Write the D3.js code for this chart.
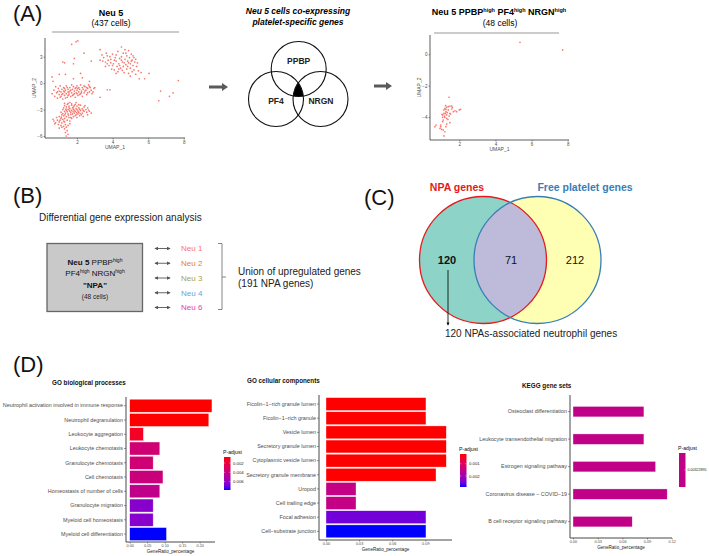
<!DOCTYPE html>
<html><head><meta charset="utf-8">
<script src="https://cdn.jsdelivr.net/npm/d3@7"></script>
<style>body{margin:0;background:#fff} svg{display:block;font-family:"Liberation Sans",Arial,sans-serif}</style>
</head><body><svg id="c" width="709" height="556"></svg>
<script>
// ---------------- DATA ----------------
const neu5Cells = [
[3.3,3.8],[3.4,3.2],[2.8,2.5],[3.5,2.9],[3.6,2.4],[3.7,3.1],[3.8,2.0],[3.9,2.7],[3.95,1.6],[4.0,3.3],[4.05,2.2],[4.1,1.5],[4.15,2.9],[4.2,2.5],[4.25,1.9],[4.3,3.6],[4.3,1.3],[4.35,2.2],[4.4,2.8],[4.45,1.7],[4.5,4.1],[4.5,3.0],[4.55,2.4],[4.6,1.9],[4.6,3.4],[4.65,1.2],[4.7,2.7],[4.7,3.8],[4.75,2.1],[4.8,1.6],[4.8,3.1],[4.85,2.5],[4.9,3.7],[4.9,1.1],[4.95,2.9],[5.0,2.2],[5.0,1.7],[5.05,3.3],[5.1,2.6],[5.1,1.3],[5.15,2.0],[5.2,2.9],[5.2,1.5],[5.25,2.4],[5.3,1.0],[5.35,1.9],[5.4,2.3],[5.45,1.4],[5.5,0.5],[5.6,1.2],[6.05,1.1],[5.8,0.5],[3.45,2.5],[3.6,1.9],[3.75,2.6],[3.85,3.0],[4.0,2.0],[4.1,2.6],[4.2,3.2],[4.4,2.0],[4.5,2.6],[4.65,2.3],[4.75,3.4],[4.9,2.3],[5.05,2.5],[5.15,3.1],[5.3,2.7],[4.35,1.6],[4.55,1.45],[3.65,3.4],[3.9,2.3],[4.85,1.9],[5.0,0.8],[4.2,1.1],[3.3,2.6],[3.7,2.2],
[7.7,0.3],[6.7,-0.9],[7.4,-1.1],[7.2,-1.5],[6.6,-2.0],[3.3,-1.6],[3.7,-0.75],[3.85,-0.75],[3.0,-0.5],[2.9,-1.0],
[1.7,4.4],[1.95,4.7],[2.05,4.8],[2.4,3.4],[1.2,2.4],[1.3,2.3],[1.85,2.8],[1.8,2.2],[1.0,1.0],[1.35,1.0],[1.8,0.5],[2.3,0.6],[2.7,0.2],[0.6,0.7],[0.65,0.2],[2.2,1.1],
[0.6,-1.2],[0.7,-0.8],[0.75,-1.5],[0.8,-0.4],[0.85,-1.1],[0.9,-1.7],[0.95,-0.6],[1.0,-1.3],[1.0,-0.9],[1.05,-0.3],[1.1,-1.5],[1.1,-1.0],[1.15,-0.7],[1.2,-1.2],[1.2,-1.8],[1.25,-0.5],[1.3,-1.0],[1.3,-1.4],[1.35,-0.8],[1.4,-0.3],[1.4,-1.2],[1.45,-1.6],[1.5,-0.7],[1.5,-1.0],[1.55,-1.3],[1.6,-0.5],[1.6,-0.9],[1.65,-1.5],[1.7,-0.2],[1.7,-1.1],[1.75,-0.7],[1.8,-1.3],[1.8,-0.4],[1.85,-0.9],[1.9,-1.6],[1.9,-0.6],[1.95,-1.1],[2.0,-0.3],[2.0,-0.8],[2.05,-1.4],[2.1,-0.5],[2.1,-1.0],[2.15,-0.7],[2.2,-1.2],[2.2,-0.2],[2.25,-0.9],[2.3,-0.5],[2.3,-1.5],[2.35,-0.7],[2.4,-1.1],[2.45,-0.4],[2.5,-0.8],[2.55,-1.3],[2.6,-0.6],[2.65,-0.2],[2.7,-1.0],[2.75,-0.5],[2.8,-0.8],[2.85,-1.2],[2.95,-0.6],[1.05,-1.6],[1.25,-0.9],[1.45,-0.5],[1.55,-1.1],[1.75,-1.4],[1.95,-0.5],[2.15,-1.3],[2.4,-0.3],[2.6,-1.1],[0.9,-1.0],[1.15,-1.3],[1.35,-1.7],[1.65,-0.8],[1.85,-1.2],[2.05,-0.6],[2.25,-1.1],[2.45,-0.9],[2.7,-0.4],[1.3,-0.6],[1.5,-1.4],[2.0,-1.2],[2.55,-0.5],
[1.3,-2.3],[1.45,-2.4],[1.6,-2.2],[1.7,-2.5],[1.55,-2.6],[1.4,-2.7],[1.25,-2.8],[1.8,-2.7],[1.9,-2.4],[2.0,-2.6],[2.1,-2.8],[2.2,-2.5],[2.3,-2.9],[2.4,-2.7],[2.5,-3.0],[2.6,-2.8],[2.7,-3.2],[2.8,-3.4],[2.55,-3.3],[2.4,-3.2],[2.3,-3.4],[2.2,-3.1],[2.1,-3.3],[2.0,-3.0],[1.9,-3.2],[1.8,-2.95],[1.7,-3.1],[1.6,-2.9],[1.5,-3.0],[1.4,-3.1],[1.3,-3.2],[1.2,-3.0],[1.35,-3.4],[1.5,-3.5],[1.65,-3.3],[1.75,-3.5],[1.85,-3.4],[1.95,-3.6],[2.05,-3.5],[2.15,-3.7],[2.25,-3.6],[1.1,-3.3],[1.15,-3.6],[1.25,-3.7],[1.4,-3.8],[1.55,-3.9],[1.0,-3.8],[1.1,-4.0],[1.2,-4.1],[1.3,-4.0],[1.45,-4.2],[0.9,-4.2],[1.0,-4.4],[1.15,-4.5],[1.3,-4.4],[0.8,-4.5],[0.95,-4.7],[1.1,-4.8],[1.25,-4.9],[1.35,-4.7],[0.7,-4.3],[0.65,-4.1],[0.75,-4.6],[1.4,-5.0],[1.3,-5.2],[1.45,-5.4],[1.35,-5.6],[1.4,-6.0],[1.5,-5.8],[1.6,-4.6],[1.7,-4.0],[1.8,-3.8],[2.0,-3.9],[1.6,-4.3],[1.55,-2.8],[1.75,-2.8],[1.95,-2.9],[2.15,-2.95],[2.35,-3.1],[1.45,-3.25],[1.65,-3.55],[1.85,-3.1],[2.05,-3.15],[1.3,-2.55],[1.5,-2.3],[1.85,-2.55],[2.1,-2.45],[2.45,-2.55],[2.65,-3.05],[1.2,-3.45],[1.05,-4.2],[1.25,-4.3],[0.85,-3.9],[1.15,-5.0],[1.0,-5.1],[1.5,-4.8],[1.65,-3.9],[1.9,-3.7],[2.35,-3.8],[2.6,-3.6],[1.38,-2.95],[1.58,-3.15],[1.78,-3.25],[1.98,-3.35],[2.18,-3.45],[1.12,-3.85],[1.32,-3.6],[1.52,-3.65],[1.7,-2.35],[1.95,-2.2]
];
const npaCells = [
[5.36,0.77],[7.72,0.28],[1.43,-2.74],[1.30,-3.38],[1.20,-3.45],[1.48,-3.30],[1.39,-3.55],[1.26,-3.66],[1.15,-3.77],[1.08,-3.87],[1.30,-3.87],[1.48,-3.77],[1.67,-3.66],[1.76,-3.60],[2.00,-3.55],[2.07,-3.51],[1.58,-3.49],[1.20,-4.02],[1.11,-4.19],[1.08,-4.02],[1.30,-4.09],[1.48,-4.36],[0.97,-4.51],[0.71,-4.51],[0.65,-4.62],[0.93,-4.72],[1.02,-4.79],[1.11,-4.83],[1.20,-4.94],[1.15,-5.21],[1.26,-4.62],[1.08,-4.30],[1.39,-3.34],[1.15,-3.55],[1.33,-3.72],[1.44,-3.94],[1.22,-3.77],[1.18,-3.94],[1.58,-3.30],[1.85,-3.66],[1.04,-3.83],[1.26,-3.51],[1.37,-4.15],[1.30,-4.45],[0.97,-4.62],[1.52,-3.81],[1.62,-3.40],[1.24,-3.28]
];
const umapXTicks = [2,4,6,8];
const umap1YTicks = [3,0,-3,-6];
const umap2YTicks = [0,-2,-4];
const vennGenes = ["PPBP","PF4","NRGN"];
const comparisonGroups = ["Neu 1","Neu 2","Neu 3","Neu 4","Neu 6"];
const vennCounts = [120, 71, 212];
const goBPTerms = ["Neutrophil activation involved in immune response","Neutrophil degranulation","Leukocyte aggregation","Leukocyte chemotaxis","Granulocyte chemotaxis","Cell chemotaxis","Homeostasis of number of cells","Granulocyte migration","Myeloid cell homeostasis","Myeloid cell differentiation"];
const goBPRatio = [0.235,0.226,0.039,0.086,0.067,0.095,0.086,0.067,0.067,0.105];
const goBPPadj = [0.0007,0.0007,0.0013,0.0036,0.0036,0.0038,0.0043,0.0063,0.0063,0.0078];
const goBPLegendTicks = [0.002,0.004,0.006];
const goCCTerms = ["Ficolin\u22121\u2212rich granule lumen","Ficolin\u22121\u2212rich granule","Vesicle lumen","Secretory granule lumen","Cytoplasmic vesicle lumen","Secretory granule membrane","Uropod","Cell trailing edge","Focal adhesion","Cell\u2212substrate junction"];
const goCCRatio = [0.0906,0.0906,0.109,0.109,0.109,0.0997,0.0272,0.0272,0.0906,0.0906];
const goCCPadj = [0.0002,0.0002,0.0002,0.0002,0.0002,0.0002,0.0015,0.0015,0.0025,0.0029];
const goCCLegendTicks = [0.001,0.002];
const keggTerms = ["Osteoclast differentiation","Leukocyte transendothelial migration","Estrogen signaling pathway","Coronavirus disease \u2212 COVID\u221219","B cell receptor signaling pathway"];
const keggRatio = [0.0862,0.0862,0.1004,0.1145,0.072];
const keggPadj = [0.00322895,0.00322895,0.00322895,0.00322895,0.00322895];
const goXTicksBP = [0,0.05,0.10,0.15,0.20];
const goXTicksCC = [0,0.03,0.06,0.09];
const keggXTicks = [0,0.03,0.06,0.09,0.12];

// ---------------- DRAW ----------------
const svg = d3.select("#c");
svg.append("rect").attr("width",709).attr("height",556).attr("fill","#fff");
const defs = svg.append("defs");
const ptCol = "#F8766D";
const axCol = "#333";
const lblCol = "#4d4d4d";

function panelLabel(t,x,y){ svg.append("text").attr("x",x).attr("y",y).attr("font-size",22).attr("fill","#111").text(t); }
panelLabel("(A)",13,21);
panelLabel("(B)",13,203);
panelLabel("(C)",364,205);
panelLabel("(D)",13,372);

function umap(opts){
  const g = svg.append("g");
  const x = d3.scaleLinear().domain([2,8]).range(opts.xr);
  const y = d3.scaleLinear().domain(opts.yd).range(opts.yr);
  g.append("path").attr("d",`M${opts.x0},${opts.yTop}V${opts.y0}H${opts.xEnd}`).attr("fill","none").attr("stroke",axCol).attr("stroke-width",0.8);
  const ax = g.append("g").attr("transform",`translate(0,${opts.y0})`).call(d3.axisBottom(x).tickValues(umapXTicks).tickSize(1.5).tickFormat(d3.format("d")));
  const ay = g.append("g").attr("transform",`translate(${opts.x0},0)`).call(d3.axisLeft(y).tickValues(opts.yt).tickSize(1.5).tickFormat(d3.format("d")));
  [ax,ay].forEach(a=>{a.select(".domain").remove();a.selectAll("line").attr("stroke",axCol).attr("stroke-width",0.5);a.selectAll("text").attr("font-size",4.5).attr("fill",lblCol).attr("font-family","Liberation Sans");});
  ax.selectAll("text").attr("dy","0.9em").attr("y",1.5);
  ay.selectAll("text").attr("x",-2.5);
  g.append("text").attr("x",(opts.x0+opts.xEnd)/2).attr("y",opts.y0+11).attr("text-anchor","middle").attr("font-size",5).attr("fill",lblCol).text("UMAP_1");
  g.append("text").attr("transform",`translate(${opts.x0-9},${(opts.yTop+opts.y0)/2}) rotate(-90)`).attr("text-anchor","middle").attr("font-size",5).attr("fill",lblCol).text("UMAP_2");
  g.selectAll("circle").data(opts.data).join("circle").attr("cx",d=>x(d[0])).attr("cy",d=>y(d[1])).attr("r",0.85).attr("fill",ptCol);
}
umap({data:neu5Cells,xr:[77,183.7],yd:[-6,3],yr:[136,56.7],yt:umap1YTicks,x0:45,y0:138,yTop:38,xEnd:185});
umap({data:npaCells,xr:[459.3,567.7],yd:[-4,0],yr:[117,54.3],yt:umap2YTicks,x0:430,y0:140,yTop:35,xEnd:569});

svg.append("text").attr("x",111).attr("y",16).attr("text-anchor","middle").attr("font-size",9).attr("font-weight","bold").text("Neu 5");
svg.append("text").attr("x",111).attr("y",26).attr("text-anchor","middle").attr("font-size",8.5).text("(437 cells)");
svg.append("line").attr("x1",52).attr("x2",179).attr("y1",32).attr("y2",32).attr("stroke","#999").attr("stroke-width",1.2);
svg.append("text").attr("x",298).attr("y",14).attr("text-anchor","middle").attr("font-size",8.5).attr("font-weight","bold").attr("font-style","italic").text("Neu 5 cells co-expressing");
svg.append("text").attr("x",298).attr("y",25).attr("text-anchor","middle").attr("font-size",8.5).attr("font-weight","bold").attr("font-style","italic").text("platelet-specific genes");
{
  const t = svg.append("text").attr("x",499).attr("y",15).attr("text-anchor","middle").attr("font-size",9).attr("font-weight","bold");
  t.append("tspan").text("Neu 5 PPBP");
  t.append("tspan").attr("font-size",5.5).attr("dy",-3.5).text("high");
  t.append("tspan").attr("dy",3.5).text(" PF4");
  t.append("tspan").attr("font-size",5.5).attr("dy",-3.5).text("high");
  t.append("tspan").attr("dy",3.5).text(" NRGN");
  t.append("tspan").attr("font-size",5.5).attr("dy",-3.5).text("high");
}
svg.append("text").attr("x",500).attr("y",26).attr("text-anchor","middle").attr("font-size",8.5).text("(48 cells)");
svg.append("line").attr("x1",434).attr("x2",559).attr("y1",33).attr("y2",33).attr("stroke","#999").attr("stroke-width",1.2);

function blockArrow(x1,x2,y){
  svg.append("path").attr("d",`M${x1},${y-1.6}H${x2-6}V${y-4}L${x2},${y}L${x2-6},${y+4}V${y+1.6}H${x1}Z`).attr("fill","#5a5a5a");
}
blockArrow(209,228,87);
blockArrow(374,392,86);

const vC = [[298.7,69],[276,99],[320.5,99]], vR = 27.5;
vC.forEach((c,i)=>{ defs.append("clipPath").attr("id","vc"+i).append("circle").attr("cx",c[0]).attr("cy",c[1]).attr("r",vR); });
svg.append("g").attr("clip-path","url(#vc1)").append("g").attr("clip-path","url(#vc2)")
  .append("circle").attr("cx",vC[0][0]).attr("cy",vC[0][1]).attr("r",vR).attr("fill","#000");
svg.selectAll(".vc").data(vC).join("circle").attr("cx",d=>d[0]).attr("cy",d=>d[1]).attr("r",vR).attr("fill","none").attr("stroke","#111").attr("stroke-width",1.1);
const vLab = [[298.7,64],[276,104],[321,104]];
vennGenes.forEach((g,i)=>svg.append("text").attr("x",vLab[i][0]).attr("y",vLab[i][1]).attr("text-anchor","middle").attr("font-size",8.5).attr("font-weight","bold").attr("fill","#222").text(g));

// ---------- B ----------
svg.append("text").attr("x",39).attr("y",220.5).attr("font-size",10).attr("fill","#222").text("Differential gene expression analysis");
svg.append("rect").attr("x",47).attr("y",243.5).attr("width",95.5).attr("height",68).attr("fill","#c9c9c9").attr("stroke","#666").attr("stroke-width",1.3);
{
  const cx=95;
  const t1 = svg.append("text").attr("x",cx).attr("y",264.5).attr("text-anchor","middle").attr("font-size",8).attr("fill","#111");
  t1.append("tspan").attr("font-weight","bold").text("Neu 5 ");
  t1.append("tspan").text("PPBP");
  t1.append("tspan").attr("font-size",5).attr("dy",-3).text("high");
  const t2 = svg.append("text").attr("x",cx).attr("y",276).attr("text-anchor","middle").attr("font-size",8).attr("fill","#111");
  t2.append("tspan").text("PF4");
  t2.append("tspan").attr("font-size",5).attr("dy",-3).text("high");
  t2.append("tspan").attr("dy",3).text(" NRGN");
  t2.append("tspan").attr("font-size",5).attr("dy",-3).text("high");
  svg.append("text").attr("x",cx).attr("y",287.5).attr("text-anchor","middle").attr("font-size",8).attr("font-weight","bold").attr("fill","#111").text("\"NPA\"");
  svg.append("text").attr("x",cx).attr("y",298.5).attr("text-anchor","middle").attr("font-size",6.5).attr("fill","#222").text("(48 cells)");
}
const grpColors = ["#F8766D","#E5822A","#A89F52","#5FA8DC","#E43FA8"];
const grpY = d3.scalePoint().domain(comparisonGroups).range([248.5,307.5]);
defs.append("marker").attr("id","ah").attr("viewBox","0 0 6 6").attr("refX",5).attr("refY",3).attr("markerWidth",4).attr("markerHeight",4).attr("orient","auto-start-reverse")
  .append("path").attr("d","M0,0L6,3L0,6Z").attr("fill","#555");
comparisonGroups.forEach((g,i)=>{
  const yy = grpY(g);
  svg.append("line").attr("x1",155).attr("x2",170).attr("y1",yy).attr("y2",yy).attr("stroke","#555").attr("stroke-width",0.9).attr("marker-start","url(#ah)").attr("marker-end","url(#ah)");
  svg.append("text").attr("x",181).attr("y",yy+2.8).attr("font-size",8).attr("fill",grpColors[i]).text(g);
});
svg.append("path").attr("d","M218,243.5H222V309.5H218M222,277H226").attr("fill","none").attr("stroke","#777").attr("stroke-width",0.9);
svg.append("text").attr("x",238).attr("y",274.5).attr("font-size",10).attr("fill","#222").text("Union of upregulated genes");
svg.append("text").attr("x",238).attr("y",286.5).attr("font-size",10).attr("fill","#222").text("(191 NPA genes)");

// ---------- C ----------
const cL=[483,260], cRr=[537.5,260], rC=63.5;
defs.append("clipPath").attr("id","cl").append("circle").attr("cx",cL[0]).attr("cy",cL[1]).attr("r",rC);
svg.append("circle").attr("cx",cL[0]).attr("cy",cL[1]).attr("r",rC).attr("fill","#8DD3C7");
svg.append("circle").attr("cx",cRr[0]).attr("cy",cRr[1]).attr("r",rC).attr("fill","#FFFFB3");
svg.append("circle").attr("clip-path","url(#cl)").attr("cx",cRr[0]).attr("cy",cRr[1]).attr("r",rC).attr("fill","#BEBADA");
svg.append("circle").attr("cx",cL[0]).attr("cy",cL[1]).attr("r",rC).attr("fill","none").attr("stroke","#E41A1C").attr("stroke-width",1.3);
svg.append("circle").attr("cx",cRr[0]).attr("cy",cRr[1]).attr("r",rC).attr("fill","none").attr("stroke","#377EB8").attr("stroke-width",1.3);
svg.append("text").attr("x",457).attr("y",191).attr("text-anchor","middle").attr("font-size",10.5).attr("font-weight","bold").attr("fill","#E41A1C").text("NPA genes");
svg.append("text").attr("x",585).attr("y",191).attr("text-anchor","middle").attr("font-size",10.5).attr("font-weight","bold").attr("fill","#377EB8").text("Free platelet genes");
const cnX = [447,511,575];
vennCounts.forEach((v,i)=>svg.append("text").attr("x",cnX[i]).attr("y",264).attr("text-anchor","middle").attr("font-size",11).attr("font-weight",i===0?"bold":"normal").attr("fill","#111").text(v));
defs.append("marker").attr("id","ah2").attr("viewBox","0 0 6 6").attr("refX",5).attr("refY",3).attr("markerWidth",3.5).attr("markerHeight",3.5).attr("orient","auto")
  .append("path").attr("d","M0,0L6,3L0,6Z").attr("fill","#111");
svg.append("line").attr("x1",448).attr("x2",448).attr("y1",270).attr("y2",325).attr("stroke","#111").attr("stroke-width",0.9).attr("marker-end","url(#ah2)");
svg.append("text").attr("x",445).attr("y",337).attr("font-size",10).attr("fill","#222").text(vennCounts[0]+" NPAs-associated neutrophil genes");

// ---------- D ----------
const ramp = d3.interpolateLab("#ff0000","#0000ff");
function barChart(o){
  const g = svg.append("g");
  const y = d3.scaleBand().domain(o.terms).range(o.yr).paddingInner(o.pad).paddingOuter(o.pad/2);
  const x = d3.scaleLinear().domain([0,o.xMax]).range([o.x0bar,o.x1bar]);
  const single = o.pd[0]===o.pd[1];
  const cs = single ? (()=>0.5) : d3.scaleLinear().domain(o.pd).range([0,1]).clamp(true);
  g.selectAll("rect").data(o.terms).join("rect")
    .attr("x",x(0)).attr("y",d=>y(d)).attr("width",(d,i)=>x(o.vals[i])-x(0)).attr("height",y.bandwidth())
    .attr("fill",(d,i)=>ramp(cs(o.padj[i]))).attr("stroke","#fff").attr("stroke-opacity",0.7).attr("stroke-width",0.5);
  g.append("path").attr("d",`M${o.ax},${o.yTop}V${o.axY}H${o.axEnd}`).attr("fill","none").attr("stroke",axCol).attr("stroke-width",0.9);
  const ay = g.append("g").attr("transform",`translate(${o.ax},0)`).call(d3.axisLeft(y).tickSize(2));
  const ax = g.append("g").attr("transform",`translate(0,${o.axY})`).call(d3.axisBottom(x).tickValues(o.xt).tickSize(1.5).tickFormat(d3.format(".2f")));
  [ax,ay].forEach(a=>{a.select(".domain").remove();a.selectAll("line").attr("stroke",axCol).attr("stroke-width",0.5);a.selectAll("text").attr("fill",lblCol).attr("font-family","Liberation Sans");});
  ay.selectAll("text").attr("font-size",5.4).attr("x",-3);
  ax.selectAll("text").attr("font-size",3.8).attr("y",2.5);
  g.append("text").attr("x",o.titleX).attr("y",o.titleY).attr("font-size",6.3).attr("font-weight","bold").attr("fill","#111").text(o.title);
  g.append("text").attr("x",(o.ax+o.axEnd)/2).attr("y",o.axY+10.5).attr("text-anchor","middle").attr("font-size",4.6).attr("fill","#222").text("GeneRatio_percentage");
  const L=o.leg;
  g.append("text").attr("x",L.x-1).attr("y",L.y0-3).attr("font-size",5.2).attr("fill","#111").text("P-adjust");
  if(single){
    g.append("rect").attr("x",L.x).attr("y",L.y0).attr("width",L.w).attr("height",L.y1-L.y0).attr("fill",ramp(0.5));
    g.append("line").attr("x1",L.x+L.w-1.3).attr("x2",L.x+L.w).attr("y1",(L.y0+L.y1)/2).attr("y2",(L.y0+L.y1)/2).attr("stroke","#fff").attr("stroke-width",0.4);
    g.append("text").attr("x",L.x+L.w+2).attr("y",(L.y0+L.y1)/2+1.4).attr("font-size",3.6).attr("fill","#222").text(o.padj[0]);
  } else {
    const gid="grad"+o.id;
    const gr=defs.append("linearGradient").attr("id",gid).attr("x1",0).attr("x2",0).attr("y1",0).attr("y2",1);
    d3.range(0,1.0001,0.1).forEach(t=>gr.append("stop").attr("offset",t).attr("stop-color",ramp(t)));
    g.append("rect").attr("x",L.x).attr("y",L.y0).attr("width",L.w).attr("height",L.y1-L.y0).attr("fill",`url(#${gid})`);
    const ls = d3.scaleLinear().domain(o.pd).range([L.y0,L.y1]);
    o.lt.forEach(v=>{
      g.append("line").attr("x1",L.x).attr("x2",L.x+1.3).attr("y1",ls(v)).attr("y2",ls(v)).attr("stroke","#fff").attr("stroke-width",0.4);
      g.append("line").attr("x1",L.x+L.w-1.3).attr("x2",L.x+L.w).attr("y1",ls(v)).attr("y2",ls(v)).attr("stroke","#fff").attr("stroke-width",0.4);
      g.append("text").attr("x",L.x+L.w+2.5).attr("y",ls(v)+1.5).attr("font-size",4.3).attr("fill","#222").text(d3.format(".3f")(v));
    });
  }
}
barChart({id:1,terms:goBPTerms,vals:goBPRatio,padj:goBPPadj,pd:[0.0007,0.0078],lt:goBPLegendTicks,yr:[398.6,541.2],pad:0.09,xMax:0.2,x0bar:129.7,x1bar:199.7,xt:goXTicksBP,
  ax:126,yTop:397,axY:542,axEnd:215,title:"GO biological processes",titleX:52,titleY:385,leg:{x:224,w:6.5,y0:457,y1:490}});
barChart({id:2,terms:goCCTerms,vals:goCCRatio,padj:goCCPadj,pd:[0.0002,0.0029],lt:goCCLegendTicks,yr:[397,538.4],pad:0.09,xMax:0.09,x0bar:326,x1bar:425.3,xt:goXTicksCC,
  ax:319,yTop:395,axY:540,axEnd:452,title:"GO cellular components",titleX:247,titleY:383,leg:{x:460,w:6.5,y0:454,y1:487}});
barChart({id:3,terms:keggTerms,vals:keggRatio,padj:keggPadj,pd:[0.00322895,0.00322895],lt:[],yr:[397.9,535.4],pad:0.62,xMax:0.12,x0bar:573,x1bar:671.7,xt:keggXTicks,
  ax:570,yTop:395,axY:538,axEnd:672,title:"KEGG gene sets",titleX:522,titleY:388,leg:{x:679,w:6.5,y0:453,y1:487}});
</script></body></html>
